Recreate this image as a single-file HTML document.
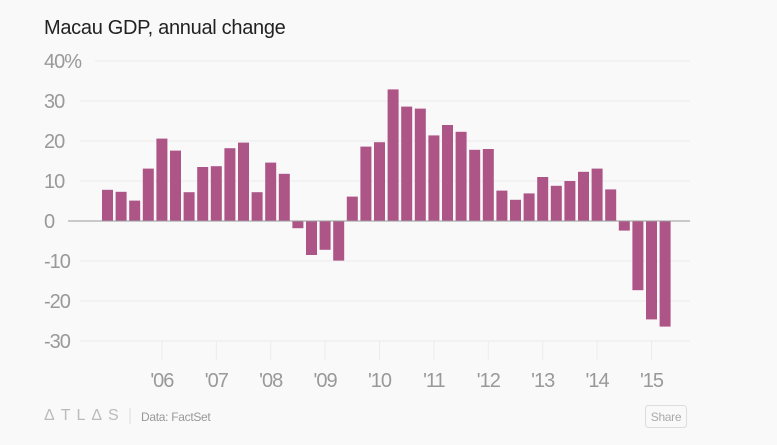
<!DOCTYPE html>
<html><head><meta charset="utf-8"><style>
body{margin:0;background:#f9f9f9;font-family:"Liberation Sans",sans-serif;}
#wrap{position:relative;width:777px;height:445px;overflow:hidden;}
</style></head><body>
<div id="wrap">
<svg id="chart" width="777" height="445">
<text x="44" y="34" font-size="20" fill="#222" letter-spacing="-0.3">Macau GDP, annual change</text>
<g id="grid"></g>
<g id="bars"></g>
<g id="axes"></g>
<text x="44" y="420" font-size="16" fill="#bbb" letter-spacing="6">ΔTLΔS</text>
<line x1="130" y1="408" x2="130" y2="424" stroke="#ddd"/>
<text x="141" y="421" font-size="12" fill="#999" letter-spacing="-0.3">Data: FactSet</text>
<g>
<rect x="645.5" y="405.5" width="41" height="22" rx="3" fill="#f9f9f9" stroke="#ddd"/>
<text x="666" y="421" font-size="12" fill="#aaa" text-anchor="middle" letter-spacing="-0.3">Share</text>
</g>
</svg>
</div>
<script>
const values=[7.8,7.3,5.1,13.1,20.6,17.6,7.2,13.5,13.7,18.2,19.6,7.2,14.6,11.8,-1.8,-8.5,-7.2,-9.9,6.1,18.6,19.7,32.9,28.6,28.1,21.4,24.0,22.3,17.8,18.0,7.6,5.3,6.9,11.0,8.8,10.0,12.3,13.1,7.9,-2.4,-17.3,-24.6,-26.4];
const yTicks=[40,30,20,10,0,-10,-20,-30];
const yearLabels=["'06","'07","'08","'09","'10","'11","'12","'13","'14","'15"];
const yearIndex=[4,8,12,16,20,24,28,32,36,40];
const NS="http://www.w3.org/2000/svg";
function y(v){return 221-v*4;}
function x(i){return 102+i*13.6;}
const bw=11;
function mk(t,a,p){const e=document.createElementNS(NS,t);for(const k in a)e.setAttribute(k,a[k]);p.appendChild(e);return e;}
const grid=document.getElementById('grid'),bars=document.getElementById('bars'),axes=document.getElementById('axes');
yTicks.forEach(v=>{
  if(v!==0){const l=mk('line',{x1:v===40?95:80,x2:690,y1:y(v),y2:y(v),stroke:'#ececec'},grid);
  
  }
  const t=mk('text',{x:44,y:y(v)+7,'font-size':20,fill:'#999','letter-spacing':-1},axes);
  t.textContent=v===40?'40%':String(v);
  
  
});
values.forEach((v,i)=>{
  const r=mk('rect',{x:x(i),y:Math.min(y(v),y(0)),width:bw,height:Math.abs(y(v)-y(0)),fill:'#ad5586'},bars);
  
  
});
const z=mk('line',{x1:68,x2:690,y1:y(0),y2:y(0),stroke:'#999','stroke-width':1},axes);


yearIndex.forEach((idx,k)=>{
  const cx=x(idx)+bw/2;
  const l=mk('line',{x1:cx,x2:cx,y1:y(-30),y2:y(-30)+19,stroke:'#ececec'},axes);
  
  
  const t=mk('text',{x:cx,y:387,'font-size':20,fill:'#999','text-anchor':'middle','letter-spacing':-1},axes);
  t.textContent=yearLabels[k];
  
  
});
</script>
</body></html>
